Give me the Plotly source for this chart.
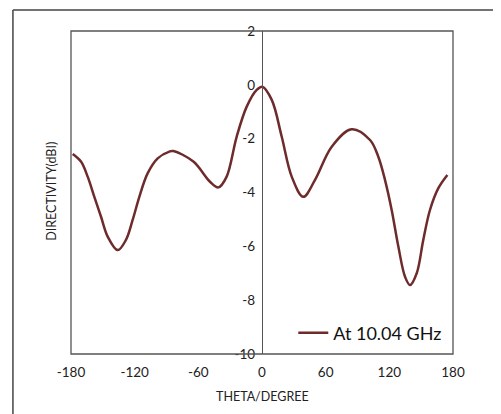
import plotly.graph_objects as go

# directivity pattern
theta = [-178.4, -170.6, -164.3, -158, -151.7, -145.4, -136, -128.2, -121.9, -115.6, -107.8, -98.3,
         -87.3, -83.6, -64.7, -49, -41.1, -33.3, -23.9, -14.4, -5, 0.3, 9.2, 18.6, 28, 38.9, 50, 65.7,
         84.5, 101.8, 109.6, 115.9, 122.2, 128.5, 134.8, 139.5, 145.8, 152, 158.3, 166.2, 174.7]
directivity = [-2.57, -2.85, -3.41, -4.16, -4.9, -5.64, -6.14, -5.76, -5.02, -4.16, -3.29, -2.73,
               -2.48, -2.46, -2.85, -3.6, -3.81, -3.41, -1.93, -0.81, -0.19, -0.07, -0.56, -1.93, -3.41,
               -4.16, -3.53, -2.3, -1.65, -2.05, -2.67, -3.53, -4.65, -6.01, -7.13, -7.44, -7.0, -5.76,
               -4.65, -3.84, -3.35]
x_ticks = [-180, -120, -60, 0, 60, 120, 180]
x_labels = ['-180', '-120', '-60', '0', '60', '120', '180']
y_ticks = [-10, -8, -6, -4, -2, 0, 2]
y_labels = ['-10', '-8', '-6', '-4', '-2', '0', '2']

font = 'Lato, Carlito, Noto Sans, sans-serif'
edge = '#555555'

fig = go.Figure()
fig.add_trace(go.Scatter(
    name='At 10.04 GHz', x=theta, y=directivity,
    mode='lines', line=dict(color='#6e2b2b', width=2.5, shape='spline', smoothing=1.0),
    showlegend=True,
))

# the page body adds an 8px offset, so the figure is 8px smaller and the left/top margins shifted
fig.update_layout(
    width=493, height=406,
    margin=dict(l=63, r=48, t=23, b=60),
    plot_bgcolor='white', paper_bgcolor='white',
    font=dict(family=font, size=13, color='#222222'),
    xaxis=dict(
        range=[-180, 180], tickvals=x_ticks, ticktext=x_labels, showgrid=False, zeroline=False,
        showline=False, ticks='', tickfont=dict(size=13.5), ticklabelstandoff=8,
    ),
    yaxis=dict(
        range=[-10, 2], tickvals=y_ticks, ticktext=y_labels, showgrid=False, zeroline=False,
        anchor='free', position=0.5, showline=True, linecolor=edge, linewidth=1.3,
        ticks='', tickfont=dict(size=13.5), ticklabelstandoff=4,
    ),
    legend=dict(
        x=0.985, y=0.065, xanchor='right', yanchor='middle',
        bgcolor='rgba(0,0,0,0)', font=dict(size=18, color='#111111'),
        itemwidth=30,
    ),
    shapes=[
        # plot box
        dict(type='rect', xref='paper', yref='paper', x0=0, x1=1, y0=0, y1=1,
             line=dict(color=edge, width=1.3)),
        # outer frame (left and top edges visible)
        dict(type='line', xref='paper', yref='paper', x0=-0.152, x1=-0.152, y0=-0.3, y1=1.065,
             line=dict(color='#444444', width=1.5)),
        dict(type='line', xref='paper', yref='paper', x0=-0.152, x1=1.3, y0=1.065, y1=1.065,
             line=dict(color='#444444', width=1.5)),
    ],
    annotations=[
        dict(text='THETA/DEGREE', xref='paper', yref='paper', x=0.5, y=-0.133,
             xanchor='center', yanchor='middle', showarrow=False, font=dict(size=12.5)),
        dict(text='DIRECTIVITY(dBI)', xref='paper', yref='paper', x=-0.05, y=0.505,
             xanchor='center', yanchor='middle', textangle=-90, showarrow=False, font=dict(size=12.5)),
    ],
)

fig.write_html('out.html')
